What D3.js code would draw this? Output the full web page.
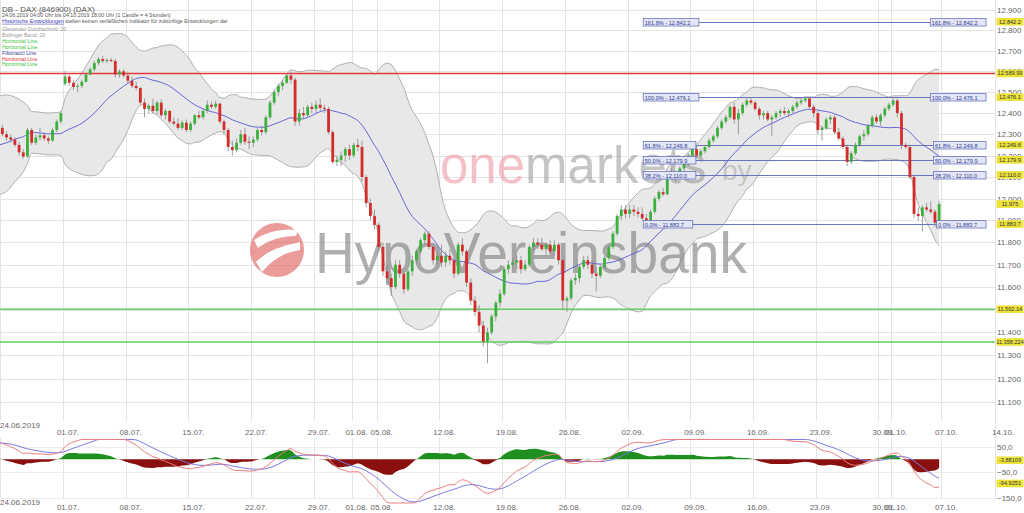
<!DOCTYPE html>
<html><head><meta charset="utf-8">
<script src="https://cdnjs.cloudflare.com/ajax/libs/d3/7.8.5/d3.min.js"></script>
<style>
html,body{margin:0;padding:0;background:#fff;overflow:hidden;}
svg{display:block;font-family:"Liberation Sans",Arial,sans-serif;}
</style></head><body>
<svg id="c" width="1024" height="513"></svg>
<script>
// ---------- DATA ----------
// warm-up candles (10.06.-21.06.2019), only used for the indicators, not drawn
const warmupCandles = [
[12000,12070,11990,12050],[12050,12080,12030,12060],[12060,12075,12040,12045],
[12045,12180,12040,12170],[12170,12200,12140,12160],[12160,12175,12130,12155],
[12155,12170,12100,12120],[12120,12140,12090,12110],[12110,12130,12100,12115],
[12115,12150,12090,12140],[12140,12180,12120,12170],[12170,12180,12150,12169],
[12169,12175,12080,12100],[12100,12120,12070,12090],[12090,12105,12080,12096],
[12096,12110,12060,12080],[12080,12100,12070,12090],[12090,12100,12080,12086],
[12086,12320,12080,12300],[12300,12350,12280,12330],[12330,12345,12320,12331],
[12331,12350,12290,12310],[12310,12330,12280,12300],[12300,12380,12290,12360],
[12360,12400,12330,12380],[12380,12390,12340,12355],[12355,12370,12340,12350],
[12350,12380,12320,12370],[12370,12390,12330,12345],[12345,12360,12320,12340]
];
// 4h candles [open, high, low, close], 3 per trading day, 24.06.-04.10.2019
const candles = [
[12330,12345,12290,12300],[12300,12315,12270,12285],[12285,12300,12260,12275],
[12275,12285,12240,12250],[12250,12265,12200,12215],[12215,12230,12185,12195],
[12195,12330,12190,12320],[12320,12330,12250,12260],[12260,12300,12250,12285],
[12285,12330,12270,12295],[12295,12310,12270,12280],[12280,12290,12255,12270],
[12270,12330,12265,12320],[12320,12370,12310,12360],[12360,12410,12350,12400],
[12540,12600,12530,12575],[12575,12585,12530,12545],[12545,12560,12510,12525],
[12525,12540,12500,12530],[12530,12560,12520,12550],[12550,12590,12545,12585],
[12585,12620,12580,12610],[12610,12650,12600,12640],[12640,12670,12630,12660],
[12660,12675,12640,12650],[12650,12665,12640,12655],[12655,12665,12645,12650],
[12650,12660,12570,12585],[12585,12610,12570,12600],[12600,12610,12570,12580],
[12580,12600,12540,12555],[12555,12575,12520,12530],[12530,12550,12510,12520],
[12520,12525,12440,12450],[12450,12470,12380,12420],[12420,12445,12400,12435],
[12435,12470,12400,12410],[12410,12460,12395,12450],[12450,12465,12380,12390],
[12390,12420,12370,12410],[12410,12415,12350,12360],[12360,12380,12340,12350],
[12350,12375,12320,12330],[12330,12365,12320,12355],[12355,12370,12310,12320],
[12320,12360,12310,12350],[12350,12395,12340,12390],[12390,12410,12370,12380],
[12380,12420,12370,12410],[12410,12460,12400,12440],[12440,12455,12420,12430],
[12430,12460,12420,12445],[12445,12450,12350,12360],[12360,12370,12300,12320],
[12320,12330,12220,12240],[12240,12270,12200,12225],[12225,12280,12215,12260],
[12260,12320,12250,12300],[12300,12330,12250,12265],[12265,12290,12230,12260],
[12260,12290,12240,12275],[12275,12330,12265,12320],[12320,12340,12295,12310],
[12310,12390,12300,12380],[12380,12460,12370,12450],[12450,12510,12440,12500],
[12500,12540,12480,12530],[12530,12560,12510,12545],[12545,12590,12540,12580],
[12580,12600,12540,12560],[12560,12570,12340,12360],[12360,12420,12340,12400],
[12400,12430,12370,12390],[12390,12440,12380,12430],[12430,12450,12400,12420],
[12420,12460,12400,12440],[12440,12470,12410,12425],[12425,12440,12400,12420],
[12420,12430,12300,12310],[12310,12320,12160,12170],[12170,12200,12150,12180],
[12180,12220,12150,12200],[12200,12240,12170,12230],[12230,12250,12180,12200],
[12200,12260,12190,12250],[12250,12280,12220,12240],[12240,12270,12080,12100],
[12100,12110,11960,11980],[11980,12000,11900,11920],[11920,11950,11860,11880],
[11880,11890,11760,11780],[11780,11800,11650,11670],[11670,11700,11620,11640],
[11640,11660,11560,11600],[11600,11720,11590,11700],[11700,11720,11640,11660],
[11660,11670,11570,11590],[11590,11680,11580,11670],[11670,11740,11650,11720],
[11720,11770,11700,11760],[11760,11820,11750,11810],[11810,11850,11790,11840],
[11840,11850,11770,11780],[11780,11800,11700,11720],[11720,11760,11700,11740],
[11740,11790,11690,11710],[11710,11760,11690,11740],[11740,11770,11700,11720],
[11720,11730,11640,11660],[11660,11800,11650,11790],[11790,11820,11740,11760],
[11760,11770,11600,11620],[11620,11640,11520,11540],[11540,11560,11470,11490],
[11490,11520,11400,11430],[11430,11450,11340,11360],[11360,11420,11266,11400],
[11400,11480,11390,11470],[11470,11540,11450,11530],[11530,11590,11510,11570],
[11570,11690,11560,11680],[11680,11720,11660,11700],[11700,11730,11680,11710],
[11710,11740,11680,11720],[11720,11740,11660,11680],[11680,11720,11670,11700],
[11700,11790,11690,11780],[11780,11820,11760,11800],[11800,11820,11770,11790],
[11790,11820,11760,11770],[11770,11800,11740,11790],[11790,11810,11750,11760],
[11760,11810,11740,11790],[11790,11800,11700,11720],[11720,11730,11500,11540],
[11540,11560,11490,11550],[11550,11640,11540,11630],[11630,11660,11610,11640],
[11640,11700,11620,11690],[11690,11740,11680,11720],[11720,11740,11680,11700],
[11700,11720,11640,11660],[11660,11690,11580,11650],[11650,11700,11640,11690],
[11690,11740,11680,11730],[11730,11790,11720,11780],[11780,11850,11770,11840],
[11840,11930,11830,11920],[11920,11970,11900,11950],[11950,11970,11910,11930],
[11930,11970,11910,11950],[11950,11970,11920,11940],[11940,11960,11915,11930],
[11930,11960,11900,11910],[11910,11930,11884,11900],[11900,11950,11890,11940],
[11940,12010,11930,12000],[12000,12040,11990,12030],[12030,12050,12010,12020],
[12020,12130,12015,12120],[12120,12140,12090,12100],[12100,12120,12080,12110],
[12110,12150,12090,12140],[12140,12170,12120,12160],[12160,12210,12150,12200],
[12200,12240,12180,12230],[12230,12250,12190,12200],[12200,12230,12190,12220],
[12220,12250,12210,12240],[12240,12280,12230,12270],[12270,12300,12260,12290],
[12290,12340,12280,12330],[12330,12370,12320,12360],[12360,12390,12350,12380],
[12380,12440,12370,12430],[12430,12450,12350,12370],[12370,12420,12300,12400],
[12400,12450,12390,12440],[12440,12470,12430,12460],[12460,12476,12440,12450],
[12450,12460,12410,12420],[12420,12430,12370,12390],[12390,12410,12370,12400],
[12400,12410,12360,12370],[12370,12390,12290,12380],[12380,12410,12370,12400],
[12400,12420,12380,12410],[12410,12430,12390,12400],[12400,12420,12380,12410],
[12410,12440,12400,12430],[12430,12460,12420,12450],[12450,12470,12440,12460],
[12460,12480,12450,12470],[12470,12475,12420,12430],[12430,12440,12380,12400],
[12400,12410,12300,12320],[12320,12340,12270,12330],[12330,12380,12320,12370],
[12370,12390,12350,12380],[12380,12390,12300,12310],[12310,12330,12270,12280],
[12280,12290,12230,12240],[12240,12250,12150,12170],[12170,12220,12160,12210],
[12210,12260,12200,12250],[12250,12300,12240,12290],[12290,12320,12270,12300],
[12300,12350,12290,12340],[12340,12390,12330,12380],[12380,12395,12350,12360],
[12360,12400,12340,12390],[12390,12430,12380,12420],[12420,12450,12410,12440],
[12440,12476,12430,12460],[12460,12470,12380,12400],[12400,12410,12230,12250],
[12250,12260,12230,12240],[12240,12250,12090,12100],[12100,12110,11910,11930],
[11930,11960,11900,11920],[11920,11970,11850,11960],[11960,11980,11940,11950],
[11950,11990,11930,11940],[11940,11950,11870,11890],[11890,11990,11880,11975]
];
const xTickDays   = [0, 5, 10, 15, 20, 25, 28, 30, 35, 40, 45, 50, 55, 60, 65, 70, 71, 75, 80];
const xTickLabels = ["24.06.2019","01.07.","08.07.","15.07.","22.07.","29.07.","01.08.","05.08.","12.08.","19.08.","26.08.","02.09.","09.09.","16.09.","23.09.","30.09.","01.10.","07.10.","14.10."];
const yTickValues = [11100,11200,11300,11400,11500,11600,11700,11800,11900,12000,12100,12200,12300,12400,12500,12600,12700,12800,12900];
const macdTickValues = [50, -50, -150];
const fibRatios = [0, 38.2, 50, 61.8, 100, 161.8];
const fibLow = 11883.7, fibHigh = 12476.1;
const greenLines = [11502.14, 11358.224];
const redLines = [12589.99];
const greenLineLabels = ["11.502.14", "11.358.224"];
const redLineLabels = ["12.589.99"];
const lastPriceLabel = "11.975";
const macdLabelValues = [-3.88109, -94.9251];
const macdLabelTexts = ["-3,88109", "-94,9251"];
const legendTitle = "DB - DAX (846900) (DAX)";
const legendLines = [
  ["24.06.2019 04:00 Uhr bis 04.10.2019 18:00 Uhr (1 Candle = 4 Stunden)", "#555"],
  ["Historische Entwicklungen stellen keinen verläßlichen Indikator für zukünftige Entwicklungen dar", "#555"],
  ["Gleitender Durchschnitt: 20", "#999"],
  ["Bollinger Band: 20", "#999"],
  ["Horizontal Line", "#3cbf3c"],
  ["Horizontal Line", "#3cbf3c"],
  ["Fibonacci Line", "#3340a0"],
  ["Horizontal Line", "#e03030"],
  ["Horizontal Line", "#3cbf3c"]
];

// ---------- SCALES ----------
const svg = d3.select("#c");
const plotRight = 995;
const x = d3.scaleLinear().domain([0, 80]).range([0.27, 0.27 + 80 * 12.546]);
const y = d3.scaleLog().domain([11100, 12900]).range([402, 10]);
const ym = d3.scaleLinear().domain([-150, 50]).range([497.5, 446.5]);
// same mapping, but held inside the indicator panel (439..503 px)
const ymLine = d3.scaleLinear().domain([ym.invert(503), ym.invert(439.5)]).range([503, 439.5]).clamp(true);
const dotFmt = v => d3.format(",")(v).replace(/,/g, ".");
const fibFmt = v => d3.format(",.1f")(v).replace(/,/g, ".");

const all = warmupCandles.concat(candles);
const nW = warmupCandles.length;
const cx = i => x((i - nW) / 3 + 1 / 6);

// ---------- INDICATORS ----------
const closes = all.map(c => c[3]);
const N = 20;
const sma = [], up = [], lo = [];
closes.forEach((c, i) => {
  if (i < N - 1) { sma.push(null); up.push(null); lo.push(null); return; }
  const win = closes.slice(i - N + 1, i + 1);
  const m = d3.mean(win);
  const sd = Math.sqrt(d3.mean(win.map(v => (v - m) * (v - m))));
  sma.push(m); up.push(m + 2 * sd); lo.push(m - 2 * sd);
});
function ema(arr, n) {
  const k = 2 / (n + 1); const out = []; let prev = arr[0];
  arr.forEach((v, i) => { prev = i === 0 ? v : v * k + prev * (1 - k); out.push(prev); });
  return out;
}
const e12 = ema(closes, 12), e26 = ema(closes, 26);
const macd = e12.map((v, i) => v - e26[i]);
const signal = ema(macd, 9);
const hist = macd.map((v, i) => v - signal[i]);

// ---------- DEFS ----------
const defs = svg.append("defs");
defs.append("clipPath").attr("id", "clipMain").append("rect").attr("x", 0).attr("y", 0).attr("width", plotRight).attr("height", 420);
defs.append("clipPath").attr("id", "clipMacd").append("rect").attr("x", 0).attr("y", 437).attr("width", plotRight).attr("height", 67);

// ---------- GRID ----------
const grid = svg.append("g").attr("stroke", "#e4e4e4").attr("stroke-width", 1);
yTickValues.forEach(v => grid.append("line").attr("x1", 0).attr("x2", plotRight).attr("y1", Math.round(y(v)) + 0.5).attr("y2", Math.round(y(v)) + 0.5));
xTickDays.forEach(d => {
  const xx = Math.round(x(d)) + 0.5;
  if (xx > plotRight + 1) return;
  grid.append("line").attr("x1", xx).attr("x2", xx).attr("y1", 0).attr("y2", 421);
  grid.append("line").attr("x1", xx).attr("x2", xx).attr("y1", 438).attr("y2", 499);
});
grid.append("line").attr("x1", plotRight + 0.5).attr("x2", plotRight + 0.5).attr("y1", 0).attr("y2", 499);
macdTickValues.forEach(v => grid.append("line").attr("x1", 0).attr("x2", plotRight).attr("y1", Math.round(ym(v)) + 0.5).attr("y2", Math.round(ym(v)) + 0.5).attr("stroke", "#ececec"));

// ---------- BOLLINGER BAND ----------
const main = svg.append("g").attr("clip-path", "url(#clipMain)");
const bandIdx = d3.range(nW - 1, all.length);
main.append("path").datum(bandIdx)
  .attr("d", d3.area().x(i => cx(i)).y0(i => y(lo[i])).y1(i => y(up[i])).curve(d3.curveMonotoneX))
  .attr("fill", "#e8e8e8");
[up, lo].forEach(arr => main.append("path").datum(bandIdx)
  .attr("d", d3.line().x(i => cx(i)).y(i => y(arr[i])).curve(d3.curveMonotoneX))
  .attr("fill", "none").attr("stroke", "#b0b0b0").attr("stroke-width", 1));

// ---------- WATERMARK (over band, under candles) ----------
const om = main.append("text").attr("x", 440).attr("y", 183).attr("font-size", 51);
om.append("tspan").attr("fill", "#ec8e9c").attr("fill-opacity", 0.55).text("one");
om.append("tspan").attr("fill", "#8c8c8c").attr("fill-opacity", 0.5).text("markets");
main.append("text").attr("x", 722).attr("y", 180).attr("font-size", 28).attr("fill", "#999").attr("fill-opacity", 0.45).text("by");
const logo = main.append("g").attr("opacity", 0.6);
logo.append("circle").attr("cx", 277).attr("cy", 250).attr("r", 27).attr("fill", "#e05a5a");
logo.append("path").attr("d", "M256,262 C268,250 282,246 300,242 L300,250 C286,252 274,258 262,272 Z M254,240 C266,232 282,228 298,230 L296,236 C282,236 268,240 258,248 Z").attr("fill", "#fff");
main.append("text").attr("x", 315).attr("y", 273).attr("font-size", 58).attr("fill", "#7a7a7a").attr("fill-opacity", 0.6)
  .attr("textLength", 432).attr("lengthAdjust", "spacingAndGlyphs").text("HypoVereinsbank");

// ---------- HORIZONTAL LINES ----------
greenLines.forEach(v => main.append("line").attr("x1", 0).attr("x2", plotRight).attr("y1", y(v)).attr("y2", y(v)).attr("stroke", "#5fcf5f").attr("stroke-width", 1.5));
redLines.forEach(v => main.append("line").attr("x1", 0).attr("x2", plotRight).attr("y1", y(v)).attr("y2", y(v)).attr("stroke", "#e43a3a").attr("stroke-width", 1.5));

// ---------- FIBONACCI ----------
const fibX0 = x(51.25), fibX1 = 986;
const fibLevels = fibRatios.map(r => ({ r, v: fibLow + (fibHigh - fibLow) * r / 100 }));
fibLevels.forEach(f => {
  const yy = Math.round(y(f.v)) + 0.5;
  main.append("line").attr("x1", fibX0).attr("x2", fibX1).attr("y1", yy).attr("y2", yy).attr("stroke", "#6a74c0").attr("stroke-width", 1);
});

// ---------- MA ----------
main.append("path").datum(bandIdx)
  .attr("d", d3.line().x(i => cx(i)).y(i => y(sma[i])).curve(d3.curveMonotoneX))
  .attr("fill", "none").attr("stroke", "#6565d8").attr("stroke-width", 1);

// ---------- CANDLES ----------
const cg = main.append("g");
all.forEach((c, i) => {
  if (i < nW) return;
  const [o, h, l, cl] = c;
  const xx = cx(i);
  const col = cl >= o ? "#3bb13b" : "#d42b2b";
  cg.append("line").attr("x1", xx).attr("x2", xx).attr("y1", y(h)).attr("y2", y(l)).attr("stroke", "#888").attr("stroke-width", 0.8);
  const y0 = y(Math.max(o, cl)), y1 = y(Math.min(o, cl));
  cg.append("rect").attr("x", xx - 1.4).attr("width", 2.8).attr("y", y0).attr("height", Math.max(0.8, y1 - y0)).attr("fill", col);
});

// fib labels
fibLevels.forEach(f => {
  const t = `${f.r.toFixed(1)}% - ${fibFmt(f.v)}`;
  const yy = Math.round(y(f.v)) + 0.5;
  const w = t.length * 3.1 + 3;
  [fibX0, fibX1 - w].forEach(bx => {
    svg.append("rect").attr("x", bx).attr("y", yy - 4).attr("width", w).attr("height", 7.5).attr("fill", "#e4e6f6").attr("stroke", "#6a74c0").attr("stroke-width", 0.8);
    svg.append("text").attr("x", bx + 1.5).attr("y", yy + 2).attr("font-size", 5.6).attr("fill", "#303a90").text(t);
  });
});

// ---------- MACD ----------
const mg = svg.append("g").attr("clip-path", "url(#clipMacd)");
const mIdx = d3.range(0, all.length);
mg.append("path").datum(mIdx).attr("d", d3.area().x(i => cx(i)).y0(ym(0)).y1(i => ym(Math.max(0, hist[i]))).curve(d3.curveMonotoneX)).attr("fill", "#1f8f1f");
mg.append("path").datum(mIdx).attr("d", d3.area().x(i => cx(i)).y0(ym(0)).y1(i => ym(Math.min(0, hist[i]))).curve(d3.curveMonotoneX)).attr("fill", "#8a0f0f");
mg.append("path").datum(mIdx).attr("d", d3.line().x(i => cx(i)).y(i => ymLine(signal[i])).curve(d3.curveMonotoneX)).attr("fill", "none").attr("stroke", "#7a7ae6").attr("stroke-width", 1);
mg.append("path").datum(mIdx).attr("d", d3.line().x(i => cx(i)).y(i => ymLine(macd[i])).curve(d3.curveMonotoneX)).attr("fill", "none").attr("stroke", "#ec7b7b").attr("stroke-width", 1);

// ---------- AXES TEXT ----------
const axisCol = "#666", axFs = 8;
yTickValues.forEach(v => svg.append("text").attr("x", 997).attr("y", y(v) + 3).attr("font-size", axFs).attr("fill", axisCol).text(dotFmt(v)));
macdTickValues.forEach(v => svg.append("text").attr("x", 997).attr("y", ym(v) + 3).attr("font-size", axFs).attr("fill", axisCol).text(d3.format(".1f")(v).replace(".", ",")));
[[428, 435, true], [505, 510, false]].forEach(([yFirst, yOther, withLast]) => {
  xTickDays.forEach((d, k) => {
    if (k === 0) {
      svg.append("text").attr("x", 0).attr("y", yFirst).attr("font-size", axFs).attr("fill", axisCol).text(xTickLabels[k]);
    } else {
      if (!withLast && d === 80) return;
      svg.append("text").attr("x", Math.min(x(d) + 5, 1003)).attr("y", yOther).attr("text-anchor", "middle").attr("font-size", axFs).attr("fill", axisCol).text(xTickLabels[k]);
    }
  });
});

// ---------- YELLOW VALUE LABELS ----------
function yl(yy, t) {
  svg.append("rect").attr("x", 996.5).attr("y", yy - 3.8).attr("width", 27).attr("height", 7.6).attr("fill", "#ece23a");
  svg.append("text").attr("x", 1010).attr("y", yy + 2).attr("text-anchor", "middle").attr("font-size", 5.6).attr("fill", "#333").text(t);
}
fibLevels.forEach(f => yl(y(f.v), fibFmt(f.v)));
greenLines.forEach((v, k) => yl(y(v), greenLineLabels[k]));
redLines.forEach((v, k) => yl(y(v), redLineLabels[k]));
yl(y(candles[candles.length - 1][3]), lastPriceLabel);
macdLabelValues.forEach((v, k) => yl(ym(v), macdLabelTexts[k]));

// ---------- LEGEND ----------
svg.append("text").attr("x", 2).attr("y", 12).attr("font-size", 8).attr("fill", "#555").text(legendTitle);
legendLines.forEach((l, k) => {
  const yy = k < 2 ? 17 + k * 5.8 : 31 + (k - 2) * 5.9;
  const t = svg.append("text").attr("x", 2).attr("y", yy).attr("font-size", 5.3).attr("fill", l[1]);
  if (k === 1) {
    t.append("tspan").attr("fill", "#3a3ab0").attr("text-decoration", "underline").text("Historische Entwicklungen");
    t.append("tspan").text(l[0].replace("Historische Entwicklungen", ""));
  } else t.text(l[0]);
});
</script>
</body></html>
